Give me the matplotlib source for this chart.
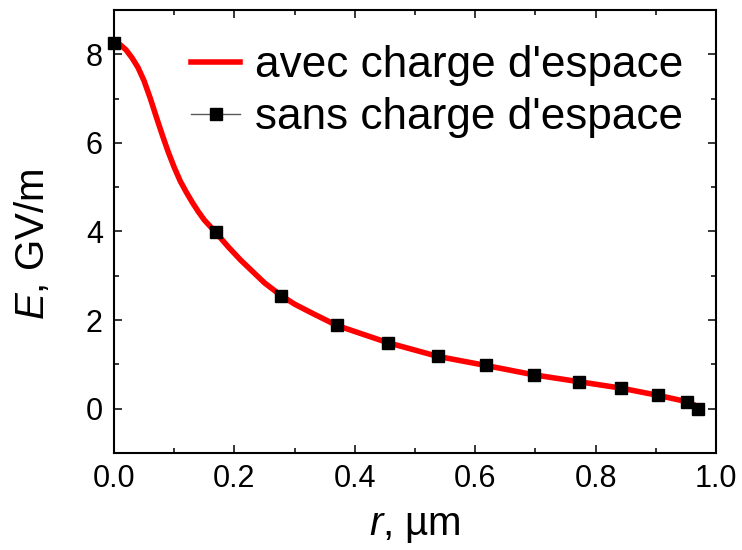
import matplotlib
matplotlib.use("Agg")
import matplotlib.pyplot as plt
from matplotlib.lines import Line2D
from matplotlib.ticker import MultipleLocator

plt.rcParams['font.family'] = ['Liberation Sans', 'DejaVu Sans']
plt.rcParams['mathtext.fontset'] = 'custom'
plt.rcParams['mathtext.rm'] = 'Liberation Sans'
plt.rcParams['mathtext.it'] = 'Liberation Sans:italic'

# avec charge d'espace (continuous curve)
r_avec = [0.0, 0.01, 0.02, 0.03, 0.04, 0.05, 0.06, 0.07, 0.08, 0.09,
          0.10, 0.11, 0.12, 0.13, 0.14, 0.15, 0.169, 0.19, 0.21, 0.23,
          0.25, 0.278, 0.30, 0.33, 0.37, 0.455, 0.538, 0.618, 0.697, 0.772,
          0.842, 0.904, 0.951, 0.965]
E_avec = [8.26, 8.22, 8.10, 7.92, 7.70, 7.40, 7.02, 6.60, 6.19, 5.80,
          5.45, 5.14, 4.89, 4.66, 4.45, 4.26, 3.98, 3.65, 3.36, 3.10,
          2.84, 2.55, 2.36, 2.15, 1.88, 1.49, 1.18, 0.975, 0.765, 0.61,
          0.465, 0.30, 0.16, 0.08]

# sans charge d'espace (squares)
r_sans = [0.0, 0.169, 0.278, 0.370, 0.455, 0.538, 0.618, 0.697, 0.772, 0.842,
          0.904, 0.951, 0.970]
E_sans = [8.26, 3.98, 2.55, 1.88, 1.49, 1.18, 0.975, 0.765, 0.61, 0.465,
          0.30, 0.16, 0.0]

fig = plt.figure(figsize=(7.42, 5.5), dpi=100)
ax = fig.add_axes([0.1536, 0.1764, 0.8114, 0.8054])

ax.plot(r_avec, E_avec, color='red', lw=4.0, zorder=2, solid_capstyle='butt')
ax.plot(r_sans, E_sans, 's', color='black', ms=8, zorder=3, clip_on=False)

ax.set_xlim(0, 1.0)
ax.set_ylim(-1, 9)
ax.xaxis.set_minor_locator(MultipleLocator(0.1))
ax.yaxis.set_minor_locator(MultipleLocator(1))
ax.set_xticks([0.0, 0.2, 0.4, 0.6, 0.8, 1.0])
ax.set_xticklabels(['0.0', '0.2', '0.4', '0.6', '0.8', '1.0'])
ax.set_yticks([0, 2, 4, 6, 8])

ax.tick_params(which='both', direction='in', top=True, right=True, width=1.1,
               labelsize=22, pad=8)
ax.tick_params(which='major', length=6)
ax.tick_params(which='minor', length=3.6)
for s in ax.spines.values():
    s.set_linewidth(1.5)

ax.set_xlabel(r'$r$, µm', fontsize=29, labelpad=9)
ax.set_ylabel(r'$E$, GV/m', fontsize=29, va='center')
ax.yaxis.set_label_coords(-0.136, 0.472)

handles = [Line2D([], [], color='red', lw=4.0),
           Line2D([], [], color='0.35', lw=1, marker='s', ms=8,
                  markerfacecolor='black', markeredgecolor='black')]
ax.legend(handles, ["avec charge d'espace", "sans charge d'espace"],
          loc='upper right', frameon=False, fontsize=31.8,
          handlelength=1.1, handletextpad=0.35, labelspacing=0.25,
          borderaxespad=0.1, bbox_to_anchor=(0.983, 0.97))

fig.savefig('out.png', dpi=100)
